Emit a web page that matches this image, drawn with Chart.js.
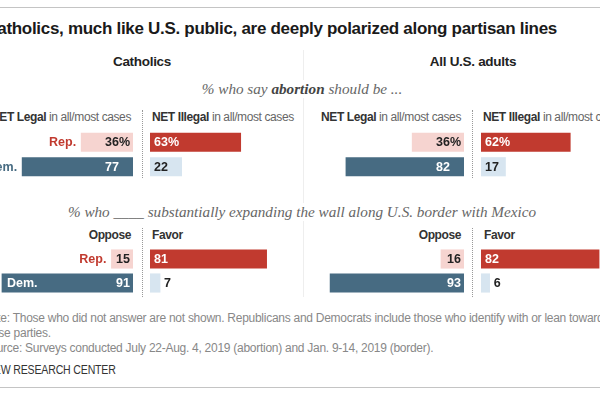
<!DOCTYPE html>
<html lang="en">
<head>
<meta charset="UTF-8"/>
<title>Catholics polarized along partisan lines</title>
<script src="https://cdn.jsdelivr.net/npm/chart.js"></script>
<style>
  * { box-sizing: border-box; }
  body { margin: 0; background: #fff; }
  #wrap {
    position: relative; width: 600px; height: 395px;
    overflow: hidden; background: #fff;
    font-family: "Liberation Sans", Arial, sans-serif;
  }
  .t { position: absolute; white-space: nowrap; line-height: 18px; }
  .rule { position: absolute; left: 0; width: 600px; height: 1px; background: #c4c4c4; }
  .title { font-weight: bold; font-size: 17px; letter-spacing: -0.3px; color: #1a1a1a; right: 43px; top: 19.5px; }
  .group { font-weight: bold; font-size: 13.5px; letter-spacing: -0.3px; color: #222; width: 200px; text-align: center; }
  .sub {
    font-family: "Liberation Serif", serif; font-style: italic; font-size: 15.2px;
    color: #666; background: #fff; padding: 0 6px; transform: translateX(-50%);
  }
  .sub b { color: #444; }
  .head { font-size: 12px; letter-spacing: -0.4px; color: #666; }
  .head b { color: #333; }
  .sep { position: absolute; left: 303px; width: 1px; background: #eee; }
  .dots { position: absolute; width: 0; border-left: 1px dotted #999; }
  .note { font-size: 12px; letter-spacing: -0.27px; color: #888; left: -17.5px; }
  .brand {
    font-size: 12px; letter-spacing: -0.2px; color: #333; left: -13.5px;
    transform: scaleX(0.88); transform-origin: 0 50%;
  }
  canvas { position: absolute; }
</style>
</head>
<body>
<div id="wrap">
  <div class="rule" style="top:7px"></div>
  <div class="t title">Catholics, much like U.S. public, are deeply polarized along partisan lines</div>

  <div class="sep" style="top:50px;height:247px"></div>
  <div class="dots" style="left:142px;top:110px;height:68px"></div>
  <div class="dots" style="left:472px;top:110px;height:68px"></div>
  <div class="dots" style="left:142px;top:228px;height:69px"></div>
  <div class="dots" style="left:472px;top:228px;height:69px"></div>

  <div class="t group" style="left:42px;top:53px">Catholics</div>
  <div class="t group" style="left:373px;top:53px">All U.S. adults</div>

  <div class="t sub" style="left:302px;top:80px">% who say <b>abortion</b> should be ...</div>
  <div class="t head" style="right:469px;top:108px"><b>NET Legal</b> in all/most cases</div>
  <div class="t head" style="left:152px;top:108px"><b>NET Illegal</b> in all/most cases</div>
  <div class="t head" style="right:139px;top:108px"><b>NET Legal</b> in all/most cases</div>
  <div class="t head" style="left:483px;top:108px"><b>NET Illegal</b> in all/most cases</div>

  <div class="t sub" style="left:302px;top:203px">% who ____ substantially expanding the wall along U.S. border with Mexico</div>
  <div class="t head" style="right:469px;top:226px"><b>Oppose</b></div>
  <div class="t head" style="left:152px;top:226px"><b>Favor</b></div>
  <div class="t head" style="right:139px;top:226px"><b>Oppose</b></div>
  <div class="t head" style="left:484px;top:226px"><b>Favor</b></div>

  <canvas id="c-cath-legal" width="164" height="49" style="left:-31px;top:130px"></canvas>
  <canvas id="c-cath-illegal" width="144" height="49" style="left:150px;top:130px"></canvas>
  <canvas id="c-all-legal" width="164" height="49" style="left:300px;top:130px"></canvas>
  <canvas id="c-all-illegal" width="144" height="49" style="left:481px;top:130px"></canvas>
  <canvas id="c-cath-oppose" width="164" height="48" style="left:-31px;top:247px"></canvas>
  <canvas id="c-cath-favor" width="144" height="48" style="left:150px;top:247px"></canvas>
  <canvas id="c-all-oppose" width="164" height="48" style="left:300px;top:247px"></canvas>
  <canvas id="c-all-favor" width="144" height="48" style="left:481px;top:247px"></canvas>

  <div class="t note" style="top:309px">Note: Those who did not answer are not shown. Republicans and Democrats include those who identify with or lean toward either of</div>
  <div class="t note" style="top:324px">those parties.</div>
  <div class="t note" style="top:339px">Source: Surveys conducted July 22-Aug. 4, 2019 (abortion) and Jan. 9-14, 2019 (border).</div>
  <div class="t brand" style="top:361px">PEW RESEARCH CENTER</div>
  <div class="rule" style="top:387px"></div>
</div>

<script>
  // data
  const parties = ['Rep.', 'Dem.'];
  const cathLegal   = [36, 77];
  const cathIllegal = [63, 22];
  const allLegal    = [36, 82];
  const allIllegal  = [62, 17];
  const cathOppose  = [15, 91];
  const cathFavor   = [81, 7];
  const allOppose   = [16, 93];
  const allFavor    = [82, 6];

  const REP_DARK = '#c13a2f', REP_LIGHT = '#f6d4d0';
  const DEM_DARK = '#476b82', DEM_LIGHT = '#d7e5f0';
  const LABEL_FONT = 'bold 12.5px "Liberation Sans", Arial, sans-serif';

  // draws values (and party names) next to / inside the bars
  const barLabels = {
    id: 'barLabels',
    afterDatasetsDraw(chart, args, opts) {
      const ctx = chart.ctx;
      const meta = chart.getDatasetMeta(0);
      const vals = chart.data.datasets[0].data;
      const rev = chart.options.scales.x.reverse;
      const pad = rev ? 3 : 4;
      ctx.save();
      ctx.font = LABEL_FONT;
      ctx.textBaseline = 'middle';
      const sfxW = opts.suffix ? ctx.measureText(opts.suffix).width : 0;
      meta.data.forEach((bar, i) => {
        const txt = vals[i] + (i === 0 && opts.suffix ? opts.suffix : '');
        const w = ctx.measureText(txt).width;
        const inside = Math.abs(bar.x - bar.base) >= w + 2 * pad;
        ctx.fillStyle = inside ? opts.inColors[i] : '#222';
        if (rev) {
          ctx.textAlign = 'right';
          const shift = i > 0 ? sfxW : 0;
          ctx.fillText(txt, inside ? bar.base - pad - shift : bar.x - pad, bar.y + 0.5);
        } else {
          ctx.textAlign = 'left';
          ctx.fillText(txt, inside ? bar.base + pad : bar.x + pad, bar.y + 0.5);
        }
        if (opts.party) {
          const name = chart.data.labels[i];
          const pw = ctx.measureText(name).width;
          if (bar.x - 5 - pw >= 0) {
            ctx.textAlign = 'right';
            ctx.fillStyle = opts.partyColors[i];
            ctx.fillText(name, bar.x - 5, bar.y + 0.5);
          } else {
            ctx.textAlign = 'left';
            ctx.fillStyle = '#fff';
            ctx.fillText(name, bar.x + 5, bar.y + 0.5);
          }
        }
      });
      ctx.restore();
    }
  };

  function makeBars(id, values, colors, inColors, reverse, extra) {
    new Chart(document.getElementById(id), {
      type: 'bar',
      data: {
        labels: parties,
        datasets: [{ data: values, backgroundColor: colors, borderWidth: 0, barThickness: 18.5 }]
      },
      options: {
        indexAxis: 'y', responsive: false, maintainAspectRatio: false,
        animation: false, events: [],
        // left columns keep a 20px margin for the party names
        layout: { padding: { left: reverse ? 20 : 0 } },
        scales: {
          x: { display: false, min: 0, max: 100, reverse: reverse },
          y: { display: false }
        },
        plugins: {
          legend: { display: false }, tooltip: { enabled: false },
          barLabels: Object.assign({ inColors: inColors }, extra || {})
        }
      },
      plugins: [barLabels]
    });
  }

  const leftCols = [REP_LIGHT, DEM_DARK], leftText = ['#222', '#fff'];
  const rightCols = [REP_DARK, DEM_LIGHT], rightText = ['#fff', '#222'];
  const party = { party: true, partyColors: [REP_DARK, DEM_DARK] };

  makeBars('c-cath-legal', cathLegal, leftCols, leftText, true, Object.assign({ suffix: '%' }, party));
  makeBars('c-cath-illegal', cathIllegal, rightCols, rightText, false, { suffix: '%' });
  makeBars('c-all-legal', allLegal, leftCols, leftText, true, { suffix: '%' });
  makeBars('c-all-illegal', allIllegal, rightCols, rightText, false, { suffix: '%' });
  makeBars('c-cath-oppose', cathOppose, leftCols, leftText, true, party);
  makeBars('c-cath-favor', cathFavor, rightCols, rightText, false);
  makeBars('c-all-oppose', allOppose, leftCols, leftText, true);
  makeBars('c-all-favor', allFavor, rightCols, rightText, false);
</script>
</body>
</html>
